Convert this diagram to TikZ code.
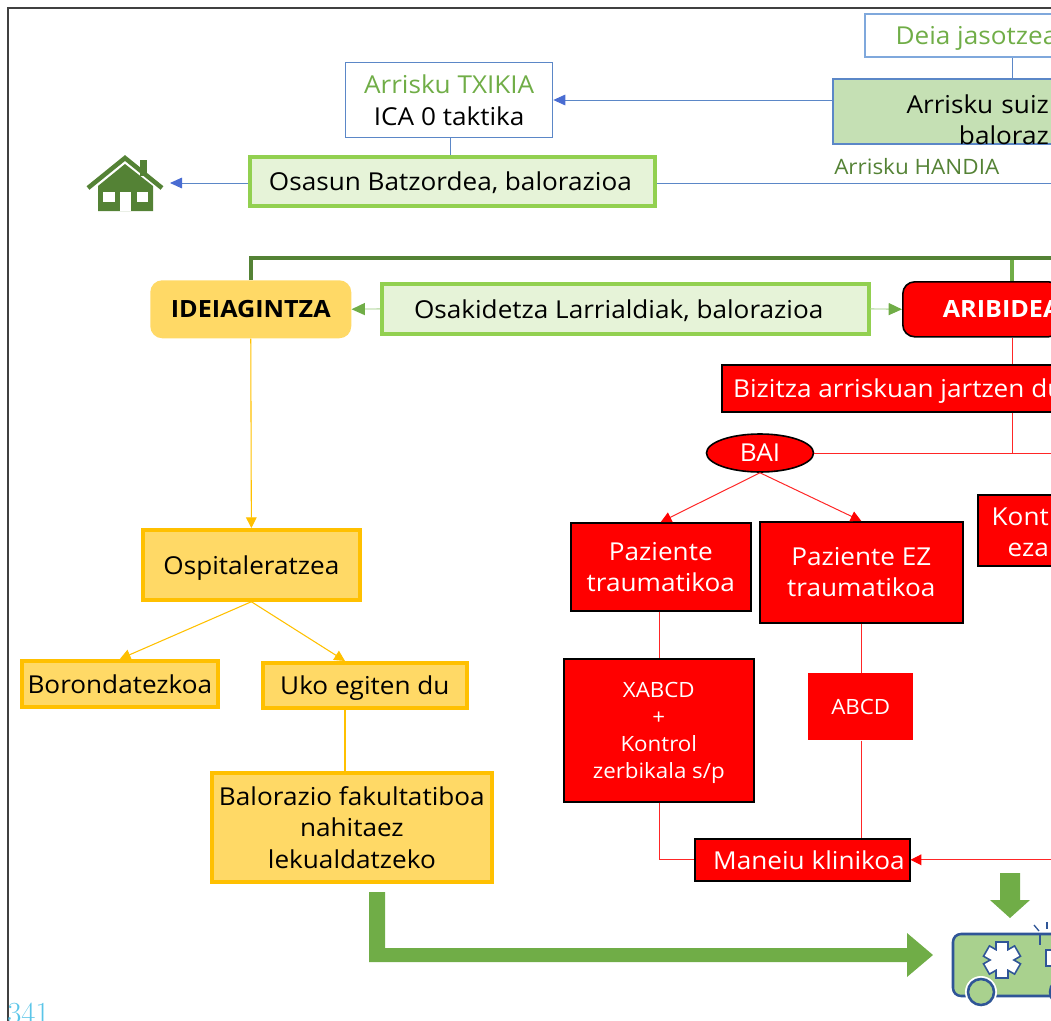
\documentclass[tikz,border=0pt]{standalone}
\usepackage{fontspec}
\setmainfont{Open Sans}[FakeStretch=1.06]
\newfontfamily\numfont{Latin Modern Roman}
\usetikzlibrary{arrows.meta,shapes.geometric}
\definecolor{bluelin}{HTML}{5B87C7}
\definecolor{bluepale}{HTML}{7FA8DC}
\definecolor{greenmid}{HTML}{70AD47}
\definecolor{greendark}{HTML}{548235}
\definecolor{greenlime}{HTML}{92D050}
\definecolor{greenpale}{HTML}{E6F3D8}
\definecolor{greensoft}{HTML}{C5E0B4}
\definecolor{amber}{HTML}{FFC000}
\definecolor{ambersoft}{HTML}{FFD966}
\definecolor{ambul}{HTML}{A9D18E}
\definecolor{ambuline}{HTML}{2F5597}
\definecolor{numblue}{HTML}{5BC5E8}
\def\px{0.75pt}
\tikzset{
        wh/.style 2 args={minimum width=#1*\px,minimum height=#2*\px,anchor=north west,inner sep=0pt},
        big/.style={font=\fontsize{18.5}{23.4}\selectfont,align=center,text depth=-1pt},
        boldbig/.style={font=\fontsize{17.8}{23.4}\selectfont\bfseries,align=center},
        small/.style={font=\fontsize{15.8}{20.4}\selectfont,align=center,text depth=-1pt},
        limebox/.style={big,draw=greenlime,line width=2.8pt,fill=greenpale},
        amberbox/.style={big,draw=amber,line width=2.8pt,fill=ambersoft},
        redbox/.style={big,draw=black,line width=1.2pt,fill=red,text=white},
        bluelink/.style={bluelin,line width=0.7pt},
        redlink/.style={red!85,line width=0.75pt},
        amberlink/.style={amber,line width=0.8pt},
        bluetip/.style={-{Triangle[length=9pt,width=8pt,color=bluelin!80!blue]}},
        redtip/.style={-{Triangle[length=8pt,width=8pt,color=red]}},
        ambertip/.style={-{Triangle[length=8pt,width=8pt,color=amber]}},
        greentip/.style={-{Triangle[length=10pt,width=9pt,color=greenmid]},greensoft,line width=1pt}
}
\begin{document}
\begin{tikzpicture}[x=\px,y=-\px]
        \useasboundingbox (0,0) rectangle (1051,1021);
        \clip (0,0) rectangle (1051,1021);

        \draw[black!75,line width=1.1pt] (8,1021) -- (8,8) -- (1051,8);

        \coordinate (riskx) at (1012,0);
        \coordinate (lowx) at (450,0);
        \coordinate (pazx) at (659,0);
        \coordinate (ezx) at (861,0);
        \coordinate (ukox) at (345,0);
        \coordinate (edgeR) at (1051,0);

        \node[wh={194}{43},draw=bluepale,line width=1.2pt,big,text=greenmid] (deia) at (864,13) {\hspace*{22pt}Deia jasotzea};
        \node[wh={226}{65},draw=bluelin,line width=1.3pt,fill=greensoft,big,align=right,text width=206*\px,text depth=11.5pt] (suiz) at (832,78) {Arrisku suiz\\baloraz};
        \node[wh={207}{75},draw=bluelin,line width=1pt,big] (txikia) at (345,62) {\textcolor{greenmid}{Arrisku TXIKIA}\\ICA 0 taktika};
        \node[wh={405}{49},limebox] (osasun) at (248,155) {Osasun Batzordea, balorazioa\hspace*{3pt}};
        \node[anchor=west,inner sep=0pt,text=greendark,font=\fontsize{15.9}{18}\selectfont] (handia) at (834,167) {Arrisku HANDIA};

        \node[wh={201}{58},fill=ambersoft,rounded corners=9pt,boldbig] (ideia) at (150,280) {IDEIAGINTZA};
        \node[wh={487}{50},limebox] (osaki) at (380,282) {Osakidetza Larrialdiak, balorazioa\hspace*{10pt}};
        \node[wh={156}{55},draw=black,line width=1.2pt,fill=red,text=white,rounded corners=9pt,boldbig] (aribide) at (902,281) {\hspace*{30pt}ARIBIDEA};
        \node[wh={337}{47},redbox] (bizitza) at (721,364) {\hspace*{8.5pt}Bizitza arriskuan jartzen du};
        \node[ellipse,draw=black,line width=1.2pt,fill=red,text=white,big,minimum width=107*\px,minimum height=38*\px,inner sep=0pt] (bai) at (760,453) {BAI};
        \node[wh={180}{88},redbox] (trauma) at (570,522) {Paziente\\traumatikoa};
        \node[wh={203}{101},redbox,text depth=-5pt] (eztrauma) at (759,521) {Paziente EZ\\traumatikoa};
        \node[wh={81}{71},redbox,align=right,text width=61*\px,text depth=21pt] (kont) at (977,494) {Kont\\eza};
        \node[wh={190}{143},redbox,small] (xabcd) at (563,658) {XABCD\\+\\Kontrol\\zerbikala s/p};
        \node[wh={105}{67},fill=red,text=white,small] (abcd) at (808,673) {ABCD};
        \node[wh={215}{42},redbox] (maneiu) at (694,838) {\hspace*{10pt}Maneiu klinikoa};

        \node[wh={217}{70},amberbox] (ospital) at (141,528) {Ospitaleratzea};
        \node[wh={196}{46},amberbox] (boron) at (20,659) {Borondatezkoa};
        \node[wh={204}{45},amberbox] (uko) at (261,661) {Uko egiten du};
        \node[wh={280}{109},amberbox] (balfak) at (210,771) {Balorazio fakultatiboa\\nahitaez\\lekualdatzeko};

        \node[anchor=north west,inner sep=0pt,text=numblue,font=\fontsize{23}{23}\selectfont\numfont] (pagenum) at (7,1003) {341};

        \coordinate (home) at (170,183);

        \draw[bluelink] (deia.south -| riskx) -- (suiz.north -| riskx);
        \draw[bluelink,bluetip] (suiz.west |- 0,100) -- (txikia.east |- 0,100);
        \draw[bluelink] (txikia.south -| lowx) -- (osasun.north -| lowx);
        \draw[bluelink,bluetip] (osasun.west |- 0,183) -- (home);
        \draw[bluelink] (osasun.east |- 0,183) -- (edgeR |- 0,183);

        \draw[greendark,line width=3.3pt] (ideia.north) -- ++(0,-22) -- (edgeR |- 0,258);
        \draw[greenmid,line width=3.3pt] (aribide.north -| riskx) -- (riskx |- 0,260);
        \draw[greentip] (osaki.west) -- (ideia.east);
        \draw[greentip] (osaki.east) -- (aribide.west);

        \draw[redlink] (aribide.south -| riskx) -- (bizitza.north -| riskx);
        \draw[redlink] (bizitza.south -| riskx) -- (riskx |- bai.east);
        \draw[redlink] (bai.east) -- (edgeR |- bai.east);
        \draw[redlink,redtip] (bai.south) -- (trauma.north);
        \draw[redlink,redtip] (bai.south) -- (eztrauma.north);
        \draw[redlink] (trauma.south -| pazx) -- (xabcd.north -| pazx);
        \draw[redlink] (eztrauma.south -| ezx) -- (abcd.north -| ezx);
        \draw[redlink] (abcd.south -| ezx) -- (maneiu.north -| ezx);
        \draw[redlink] (xabcd.south -| pazx) |- (maneiu.west);
        \draw[redlink,redtip] (edgeR |- maneiu.east) -- (maneiu.east);

        \draw[amberlink,ambertip] (ideia.south) -- (ospital.north);
        \draw[amberlink,ambertip] (ospital.south) -- (boron.north);
        \draw[amberlink,ambertip] (ospital.south) -- (uko.north -| ukox);
        \draw[amberlink] (uko.south -| ukox) -- (balfak.north -| ukox);

        \fill[greenmid] (369,892) -- (385,892) -- (385,948) -- (907,948) -- (907,933) -- (933,955) -- (907,977) -- (907,962) -- (369,962) -- cycle;
        \fill[greenmid] (1000,873) -- (1020,873) -- (1020,900) -- (1030,900) -- (1010,918) -- (990,900) -- (1000,900) -- cycle;

        \fill[greendark] (98,211) -- (98,186) -- (125,164) -- (153,186) -- (153,211) -- cycle;
        \draw[greendark,line width=3.4pt] (88,188) -- (125,158) -- (162,188);
        \fill[greendark] (140,160) rectangle (147,176);
        \fill[white] (103,192) rectangle (115,202);
        \fill[white] (137,192) rectangle (148,202);
        \fill[white] (120,192) rectangle (131,211);

        \draw[ambuline,line width=1.9pt,fill=ambul,rounded corners=6pt] (953,996) -- (953,934) -- (1062,934) -- (1062,996) -- cycle;
        \draw[ambuline,line width=1.7pt] (1040,934) -- (1040,945);
        \draw[ambuline,line width=1.7pt,fill=white] (1046,950) rectangle (1060,966);
        \foreach \ang in {0,60,120}
                \draw[ambuline,line width=2.6pt,rotate around={\ang:(1002,960)}] (997,943) rectangle (1007,977);
        \foreach \ang in {0,60,120}
                \fill[white,rotate around={\ang:(1002,960)}] (997,943) rectangle (1007,977);
        \draw[white,line width=1.5pt,fill=ambul] (981,992) circle (15);
        \draw[ambuline,line width=1.9pt,fill=ambul] (981,992) circle (13);
        \draw[ambuline,line width=1.9pt,fill=bluepale] (1063,992) circle (13);
        \draw[ambuline,line width=1pt] (1034,925) -- (1039,931);
        \draw[ambuline,line width=1pt] (1047,922) -- (1047,929);

\end{tikzpicture}
\end{document}
